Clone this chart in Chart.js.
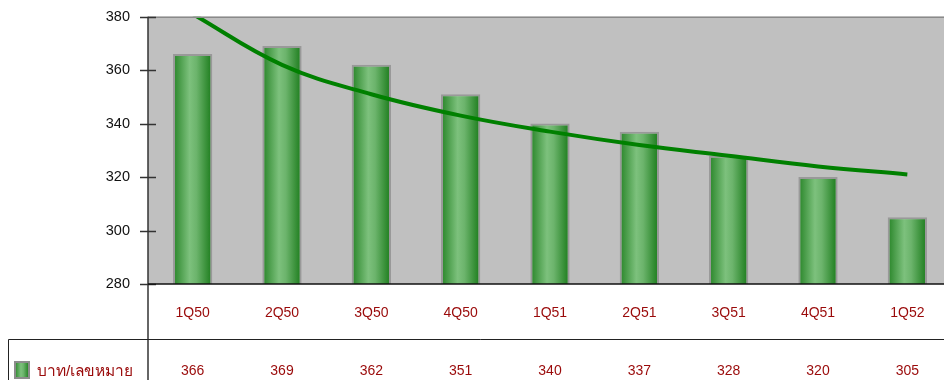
<!DOCTYPE html>
<html>
<head>
<meta charset="utf-8">
<script src="https://cdn.jsdelivr.net/npm/chart.js@4.4.1/dist/chart.umd.min.js"></script>
<style>
  html, body { margin: 0; padding: 0; background: #fff; overflow: hidden; }
  #wrap { position: relative; width: 952px; height: 390px; margin-top: -10px; }
</style>
</head>
<body>
<div id="wrap"><canvas id="chart"></canvas></div>
<script>
// --- Data ---
const quarters = ['1Q50', '2Q50', '3Q50', '4Q50', '1Q51', '2Q51', '3Q51', '4Q51', '1Q52'];
const pricePerLine = [366, 369, 362, 351, 340, 337, 328, 320, 305];
const trendValues = [381, 362, 351, 343, 337, 332, 328, 324, 321];
const seriesLabel = 'บาท/เลขหมาย';
const yTicks = [280, 300, 320, 340, 360, 380];

const FONT = "'Liberation Sans', Arial, sans-serif";
const LABEL_RED = '#9a0a0a';
const SHIFT = 10; // canvas is pulled up by this many px

// green cylinder-style fill for each bar
function barGradient(ctx, left, right) {
    const g = ctx.createLinearGradient(left, 0, right, 0);
    g.addColorStop(0, '#2a862a');
    g.addColorStop(0.42, '#7dc17d');
    g.addColorStop(0.6, '#6cb46c');
    g.addColorStop(1, '#1d7d1d');
    return g;
}

// --- Plot background, axes, ticks and the data table underneath ---
const tablePlugin = {
    id: 'tablePlugin',
    beforeDatasetsDraw(chart) {
        const { ctx, chartArea: a } = chart;
        ctx.save();
        ctx.fillStyle = '#c0c0c0';
        ctx.fillRect(a.left, a.top, a.right - a.left, a.bottom - a.top);
        ctx.restore();
    },
    afterDraw(chart) {
        const { ctx, chartArea: a, scales } = chart;
        const h = chart.height;
        ctx.save();

        // top border of plot
        ctx.strokeStyle = '#8a8a8a';
        ctx.lineWidth = 1.5;
        ctx.beginPath();
        ctx.moveTo(a.left, a.top + 0.5);
        ctx.lineTo(a.right, a.top + 0.5);
        ctx.stroke();

        // y axis, runs through the table too
        ctx.strokeStyle = '#333';
        ctx.lineWidth = 1.5;
        ctx.beginPath();
        ctx.moveTo(a.left, a.top);
        ctx.lineTo(a.left, h);
        ctx.stroke();

        // tick marks crossing the axis
        yTicks.forEach(v => {
            const y = Math.round(scales.y.getPixelForValue(v)) + 0.5;
            ctx.beginPath();
            ctx.moveTo(a.left - 8, y);
            ctx.lineTo(a.left + 8, y);
            ctx.stroke();
        });

        // x axis line
        ctx.strokeStyle = '#111';
        ctx.lineWidth = 1.5;
        ctx.beginPath();
        ctx.moveTo(a.left, a.bottom);
        ctx.lineTo(a.right, a.bottom);
        ctx.stroke();

        // table frame
        const rowTop = 339.5 + SHIFT;
        ctx.strokeStyle = '#222';
        ctx.lineWidth = 1;
        ctx.beginPath();
        ctx.moveTo(8.5, rowTop);
        ctx.lineTo(a.right, rowTop);
        ctx.moveTo(8.5, rowTop);
        ctx.lineTo(8.5, h);
        ctx.stroke();

        // value row
        const rowY = 371 + SHIFT;
        ctx.fillStyle = LABEL_RED;
        ctx.font = '14px ' + FONT;
        ctx.textAlign = 'center';
        ctx.textBaseline = 'middle';
        pricePerLine.forEach((v, i) => {
            ctx.fillText(String(v), scales.x.getPixelForValue(i), rowY);
        });

        // legend key
        const kx = 15, ky = 362 + SHIFT, kw = 14, kh = 16;
        ctx.fillStyle = barGradient(ctx, kx, kx + kw);
        ctx.fillRect(kx, ky, kw, kh);
        ctx.strokeStyle = '#8c8c8c';
        ctx.lineWidth = 2;
        ctx.strokeRect(kx, ky, kw, kh);

        ctx.fillStyle = LABEL_RED;
        ctx.textAlign = 'left';
        ctx.font = '15.5px ' + FONT;
        ctx.fillText(seriesLabel, 37, rowY + 1);

        ctx.restore();
    }
};

document.addEventListener('DOMContentLoaded', function() {
    const ctx = document.getElementById('chart').getContext('2d');

    new Chart(ctx, {
        data: {
            labels: quarters,
            datasets: [
                {
                    type: 'line',
                    label: 'trend',
                    data: trendValues,
                    borderColor: '#008000',
                    borderWidth: 4,
                    pointRadius: 0,
                    tension: 0.4,
                    clip: 0,
                    order: 0
                },
                {
                    type: 'bar',
                    label: seriesLabel,
                    data: pricePerLine,
                    backgroundColor: (c) => {
                        const chart = c.chart;
                        if (!chart.chartArea || !chart.scales.x) return '#4fa34f';
                        const x = chart.scales.x.getPixelForValue(c.dataIndex);
                        return barGradient(chart.ctx, x - 19, x + 19);
                    },
                    borderColor: '#999999',
                    borderWidth: 2,
                    borderSkipped: 'bottom',
                    barPercentage: 0.44,
                    categoryPercentage: 1,
                    order: 1
                }
            ]
        },
        options: {
            responsive: true,
            maintainAspectRatio: false,
            animation: false,
            layout: { padding: { top: 6, left: 0, right: 0, bottom: 0 } },
            scales: {
                y: {
                    min: 280,
                    max: 380,
                    afterFit: (s) => { s.width = 148; },
                    afterBuildTicks: (s) => { s.ticks = yTicks.map(v => ({ value: v })); },
                    grid: { display: false, drawTicks: false },
                    border: { display: false },
                    ticks: {
                        padding: 18,
                        color: '#111',
                        font: { family: FONT, size: 14.5 }
                    }
                },
                x: {
                    afterFit: (s) => { s.height = 96; },
                    grid: { display: false, drawTicks: false },
                    border: { display: false },
                    ticks: {
                        padding: 21,
                        color: LABEL_RED,
                        font: { family: FONT, size: 14 },
                        maxRotation: 0
                    }
                }
            },
            plugins: {
                legend: { display: false },
                tooltip: { enabled: false }
            }
        },
        plugins: [tablePlugin]
    });
});
</script>
</body>
</html>
